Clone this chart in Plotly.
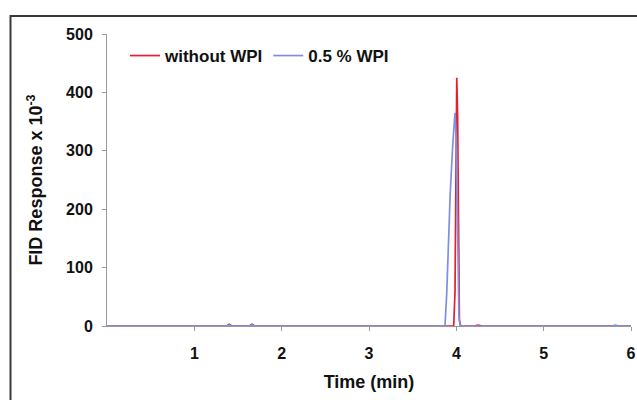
import plotly.graph_objects as go

# ---- data ----
time_without = [0.0, 1.37, 1.40, 1.43, 1.63, 1.66, 1.69, 3.97, 3.985, 3.995, 4.005,
                4.015, 4.025, 4.035, 4.05, 4.20, 4.25, 4.30, 6.0]
resp_without = [0, 0, 3, 0, 0, 3, 0, 0, 60, 250, 425,
                360, 120, 10, 0, 0, 1.5, 0, 0]

time_wpi = [0.0, 1.37, 1.40, 1.43, 1.63, 1.66, 1.69, 3.87, 3.89, 3.93, 3.96,
            3.985, 4.0, 4.015, 4.03, 4.045, 5.78, 5.82, 5.86, 6.0]
resp_wpi = [0, 0, 2, 0, 0, 2, 0, 0, 56, 227, 313,
            365, 320, 150, 15, 0, 0, 1.5, 0, 0]

series_names = ["without WPI", "0.5 % WPI"]
x_ticks = [1, 2, 3, 4, 5, 6]
x_tick_labels = ["1", "2", "3", "4", "5", "6"]
y_ticks = [0, 100, 200, 300, 400, 500]
y_tick_labels = ["0", "100", "200", "300", "400", "500"]

RED = "#e3202f"
BLUE = "#7f8fe0"
FONT = "Liberation Sans, Arial, sans-serif"

fig = go.Figure()
fig.add_trace(go.Scatter(x=time_without, y=resp_without, mode="lines",
                         name=series_names[0], line=dict(color=RED, width=1.7)))
fig.add_trace(go.Scatter(x=time_wpi, y=resp_wpi, mode="lines",
                         name=series_names[1], line=dict(color=BLUE, width=1.7)))

# plot area in pixels: left 107, right 631, top 34, bottom 326
L, R, T, B = 107, 631, 34, 326
W, H = 637, 400

def px_to_paper_x(px):
    return (px - L) / (R - L)

def px_to_paper_y(py):
    return (B - py) / (B - T)

fig.update_layout(
    width=W, height=H,
    margin=dict(l=L, r=W - R, t=T, b=H - B, autoexpand=False),
    paper_bgcolor="white", plot_bgcolor="white",
    font=dict(family=FONT, color="black"),
    showlegend=True,
    legend=dict(orientation="h", x=px_to_paper_x(125), xanchor="left",
                y=px_to_paper_y(56), yanchor="middle",
                font=dict(size=17, family=FONT, weight="bold", color="#111"),
                bgcolor="rgba(0,0,0,0)", borderwidth=0, itemwidth=30,
                tracegroupgap=0),
    xaxis=dict(range=[0, 6], tickmode="array", tickvals=x_ticks, ticktext=x_tick_labels,
               ticks="outside", ticklen=4, tickcolor="#999", tickwidth=1,
               showline=True, linecolor="#9a9a9a", linewidth=1,
               showgrid=False, zeroline=False,
               tickfont=dict(size=16, family=FONT, weight="bold", color="#111"),
               ticklabelstandoff=9,
               title=dict(text="Time (min)", standoff=14,
                          font=dict(size=18, family=FONT, weight="bold", color="#111"))),
    yaxis=dict(range=[0, 500], tickmode="array", tickvals=y_ticks, ticktext=y_tick_labels,
               ticks="outside", ticklen=4, tickcolor="#999", tickwidth=1,
               showline=True, linecolor="#9a9a9a", linewidth=1,
               showgrid=False, zeroline=False,
               tickfont=dict(size=16, family=FONT, weight="bold", color="#111"),
               ticklabelstandoff=6,
               title=dict(text="FID Response x 10<sup>-3</sup>", standoff=18,
                          font=dict(size=18, family=FONT, weight="bold", color="#111"))),
)

# outer frame of the original figure
fig.add_shape(type="rect", xref="paper", yref="paper",
              x0=px_to_paper_x(10.5), x1=px_to_paper_x(660),
              y0=px_to_paper_y(420), y1=px_to_paper_y(16),
              line=dict(color="#3a3a3a", width=2), fillcolor="rgba(0,0,0,0)",
              layer="below")

fig.write_html("out.html")
